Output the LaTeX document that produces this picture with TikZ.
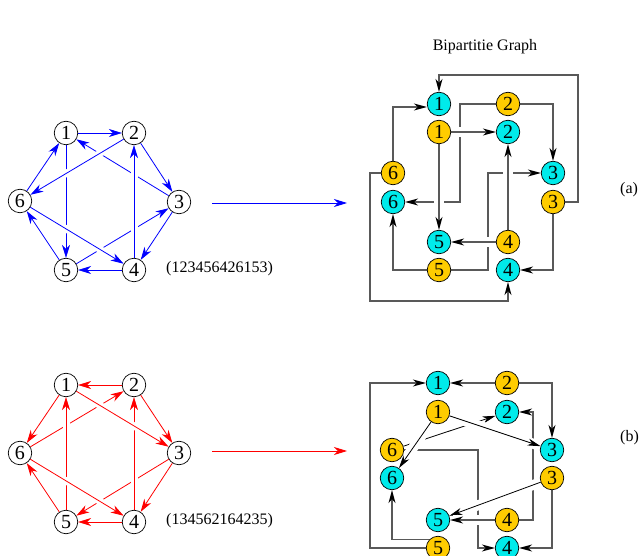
\documentclass[tikz,border=0pt]{standalone}
\usepackage{fontspec}
\setmainfont{Liberation Serif}
\usetikzlibrary{arrows.meta}
\pgfdeclarelayer{front}
\pgfsetlayers{main,front}
\definecolor{incyan}{RGB}{0,235,235}
\definecolor{outgold}{RGB}{255,204,0}
\begin{document}
\begin{tikzpicture}[x=1pt,y=-1pt]
\tikzstyle{vert}=[circle,draw,line width=.7pt,minimum size=23.5pt,inner sep=0pt,font=\fontsize{20}{20}\selectfont]
\tikzstyle{src}=[vert,fill=outgold]
\tikzstyle{dst}=[vert,fill=incyan]
\tikzstyle{txt}=[inner sep=0pt,font=\fontsize{16}{16}\selectfont]
\tikzstyle{edge}=[draw,line width=.8pt,-{Stealth[length=13pt,width=8pt,inset=4pt]}]
\tikzstyle{wire}=[draw,black!65,line width=1.1pt,-{Stealth[length=13pt,width=7pt,inset=4pt,black]}]
\tikzstyle{link}=[draw,black,line width=.8pt,-{Stealth[length=13pt,width=7pt,inset=4pt]}]
\tikzstyle{over}=[preaction={draw=white,-,line width=7pt,shorten <=3pt,shorten >=3pt}]
\tikzstyle{wover}=[preaction={draw=white,-,line width=10pt,shorten <=3pt,shorten >=3pt}]
\useasboundingbox (0,0) rectangle (641,556);

\begin{pgfonlayer}{front}
% hexagon graphs
\node[vert] (a1) at (66,133) {1};  \node[vert] (a2) at (134,133) {2};
\node[vert] (a3) at (179,202) {3}; \node[vert] (a4) at (134,270) {4};
\node[vert] (a5) at (66,270) {5};  \node[vert] (a6) at (20,201) {6};
\node[vert] (b1) at (66,385) {1};  \node[vert] (b2) at (134,385) {2};
\node[vert] (b3) at (179,453) {3}; \node[vert] (b4) at (134,522) {4};
\node[vert] (b5) at (66,522) {5};  \node[vert] (b6) at (20,453) {6};
% bipartite graphs, gold = tail, cyan = head
\node[dst] (ai1) at (439,104) {1}; \node[src] (ao2) at (508,104) {2};
\node[src] (ao1) at (439,132) {1}; \node[dst] (ai2) at (508,132) {2};
\node[src] (ao6) at (393,173) {6}; \node[dst] (ai3) at (553,173) {3};
\node[dst] (ai6) at (393,202) {6}; \node[src] (ao3) at (553,202) {3};
\node[dst] (ai5) at (439,242) {5}; \node[src] (ao4) at (508,242) {4};
\node[src] (ao5) at (439,270) {5}; \node[dst] (ai4) at (508,270) {4};
\node[dst] (bi1) at (438,383) {1}; \node[src] (bo2) at (507,383) {2};
\node[src] (bo1) at (438,412) {1}; \node[dst] (bi2) at (507,412) {2};
\node[src] (bo6) at (392,450) {6}; \node[dst] (bi3) at (552,450) {3};
\node[dst] (bi6) at (392,478) {6}; \node[src] (bo3) at (552,478) {3};
\node[dst] (bi5) at (438,520) {5}; \node[src] (bo4) at (507,520) {4};
\node[src] (bo5) at (438,548) {5}; \node[dst] (bi4) at (507,548) {4};
\end{pgfonlayer}

\node[txt,anchor=west] (seqa) at (166,269) {(123456426153)};
\node[txt,anchor=west] (seqb) at (166,521) {(134562164235)};
\node[txt] (head) at (485,47) {Bipartitie Graph};
\node[txt,anchor=west] (laba) at (620,190) {(a)};
\node[txt,anchor=west] (labb) at (620,438) {(b)};

% (a) cycle 1-2-3-4-5-6-4-2-6-1-5-3-1
\path[edge,blue](a3)--(a1);
\path[edge,blue](a5)--(a3);
\path[edge,blue](a1)--(a5);
\path[edge,blue,over](a4)--(a2);
\path[edge,blue,over](a2)--(a6);
\path[edge,blue,over](a6)--(a4);
\path[edge,blue](a1)--(a2);
\path[edge,blue](a2)--(a3);
\path[edge,blue](a3)--(a4);
\path[edge,blue](a4)--(a5);
\path[edge,blue](a5)--(a6);
\path[edge,blue](a6)--(a1);

% (b) cycle 1-3-4-5-6-2-1-6-4-2-3-5-1
\path[edge,red](b6)--(b2);
\path[edge,red](b3)--(b5);
\path[edge,red,over](b5)--(b1);
\path[edge,red,over](b4)--(b2);
\path[edge,red,over](b1)--(b3);
\path[edge,red,over](b6)--(b4);
\path[edge,red](b2)--(b1);
\path[edge,red](b1)--(b6);
\path[edge,red](b2)--(b3);
\path[edge,red](b3)--(b4);
\path[edge,red](b4)--(b5);
\path[edge,red](b5)--(b6);

\coordinate (fa) at (212,203); \coordinate (ta) at (347,203);
\coordinate (fb) at (212,451); \coordinate (tb) at (347,451);
\path[edge,blue](fa)--(ta);
\path[edge,red](fb)--(tb);

% bipartite (a)
\path[wire](ao2)--++(-48,0)|-(ai6);
\path[wire](ao5)--++(49,0)|-(ai3);
\path[wire,wover](ao1)--(ai2);
\path[wire,wover](ao1)--(ai5);
\path[wire,wover](ao4)--(ai2);
\path[wire,wover](ao4)--(ai5);
\path[wire](ao2)-|(ai3);
\path[wire](ao3)--++(25,0)--++(0,-127)-|(ai1);
\path[wire](ao3)|-(ai4);
\path[wire](ao5)-|(ai6);
\path[wire](ao6)|-([yshift=-3pt]ai1.west);
\path[wire](ao6)--++(-23,0)--++(0,128)-|(ai4);

% bipartite (b)
\path[link](bo6)--(bi2);
\path[wire](bo6)--++(86,0)|-(bi4);
\path[wire](bo4)--++(26,0)|-(bi2);
\path[link,wover](bo1)--(bi6);
\path[link,wover](bo1)--(bi3);
\path[link,wover](bo3)--(bi5);
\path[wire,wover](bo4)--(bi5);
\path[wire](bo2)--(bi1);
\path[wire](bo2)-|(bi3);
\path[wire](bo3)|-(bi4);
\path[wire](bo5.137)-|(bi6);
\path[wire](bo5)--++(-68,0)|-(bi1);
\end{tikzpicture}
\end{document}
